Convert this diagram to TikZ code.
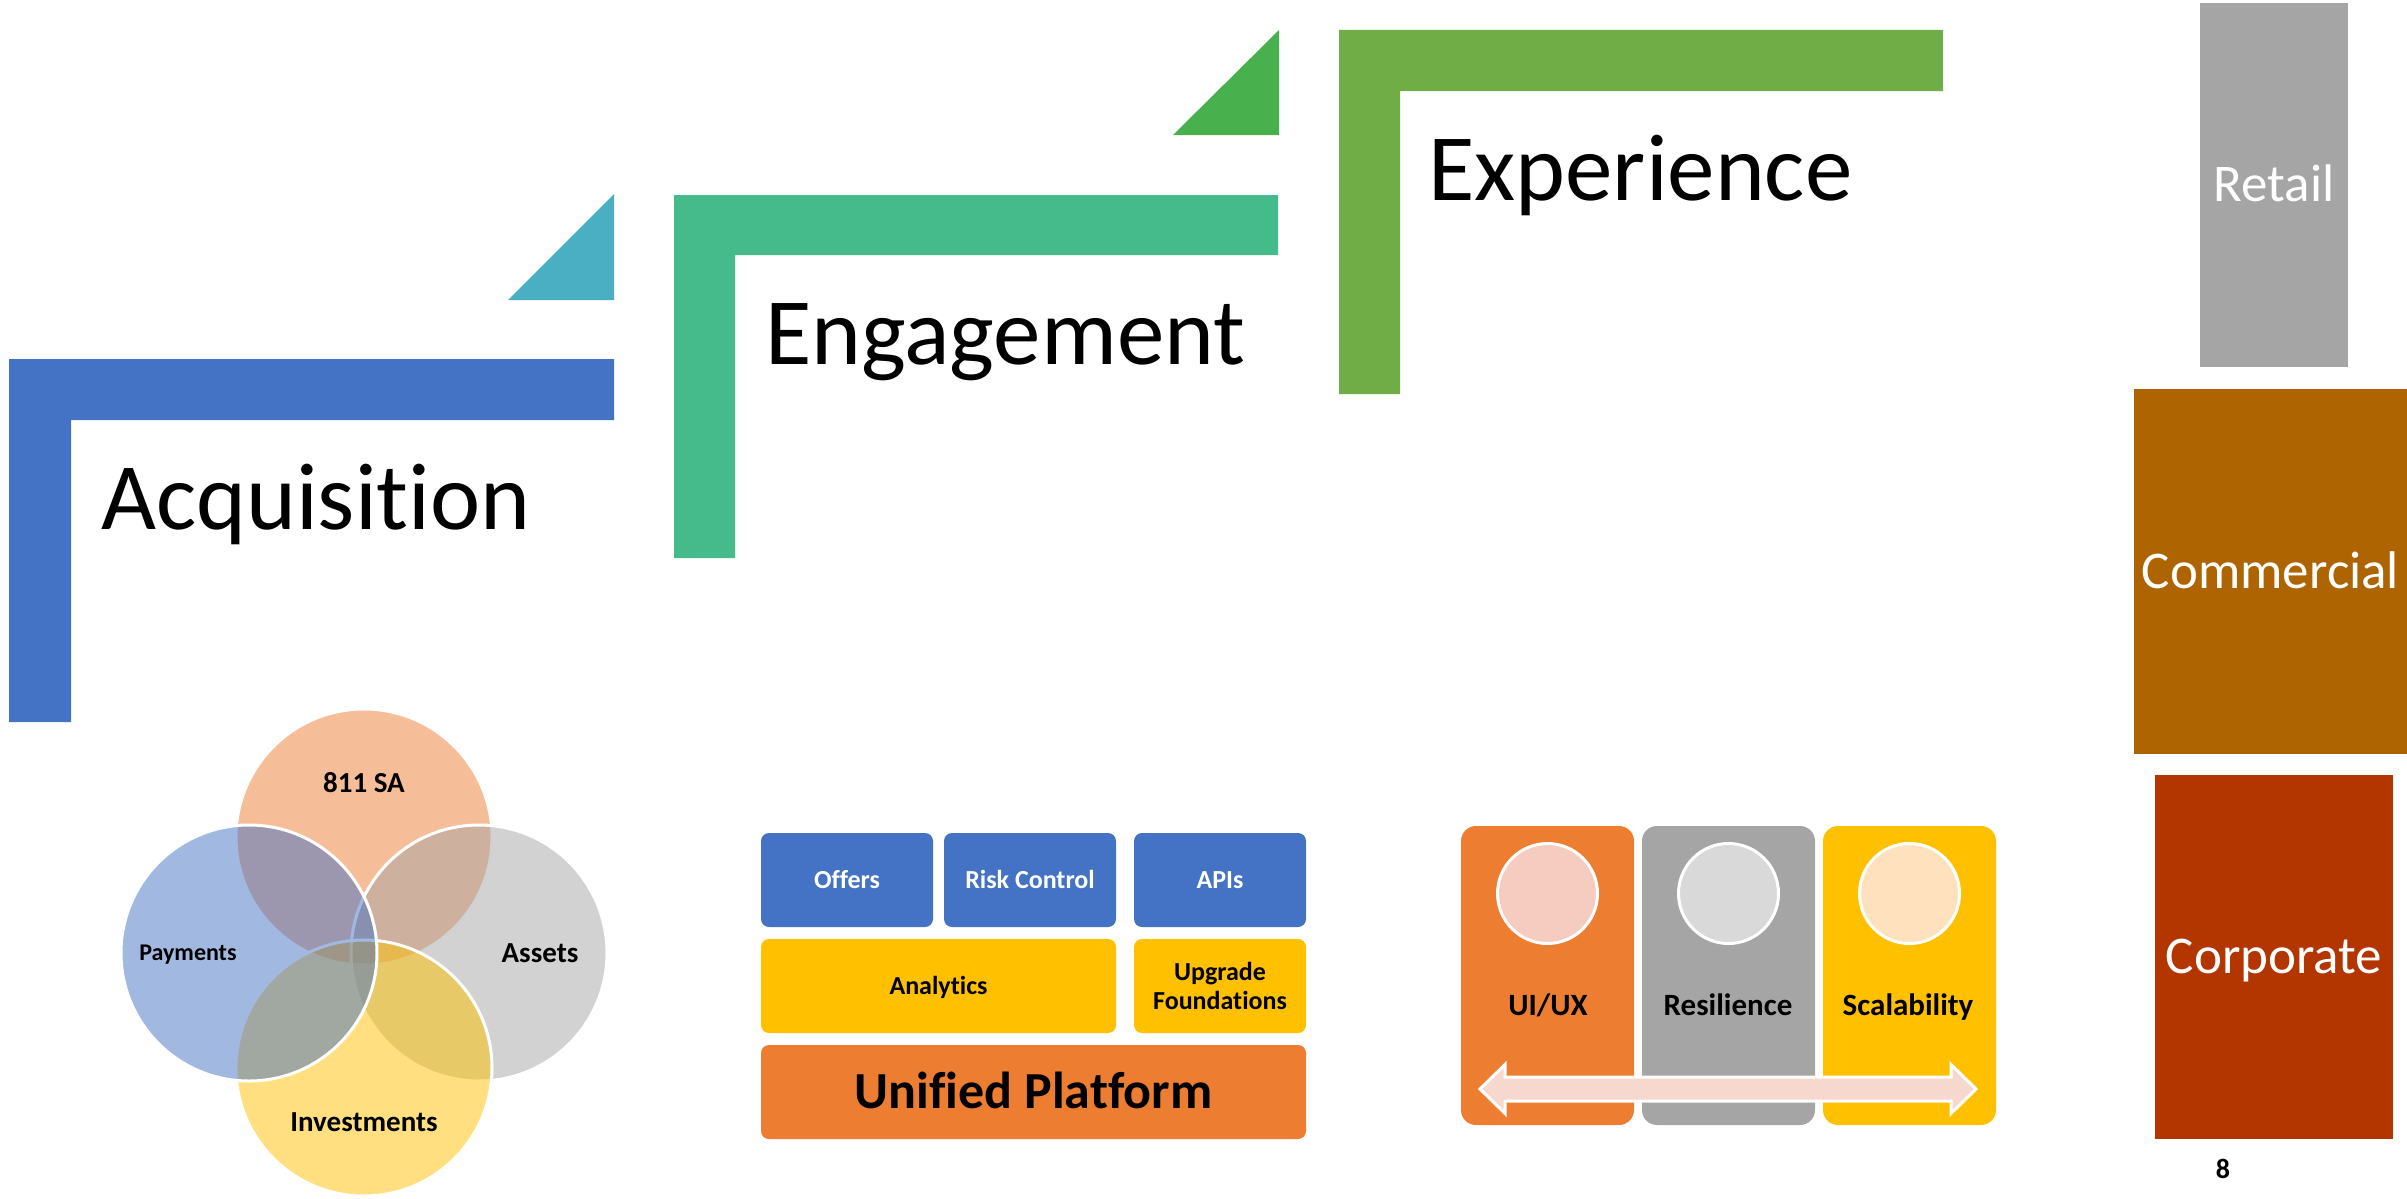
\documentclass[tikz,border=0pt]{standalone}
\usepackage{fontspec}
\setmainfont{Carlito}[Ligatures=NoCommon]
\usetikzlibrary{positioning}

\definecolor{acqBlue}{HTML}{4472C4}
\definecolor{acqTri}{HTML}{4AAFC2}
\definecolor{engGreen}{HTML}{45BB8C}
\definecolor{engTri}{HTML}{48B14D}
\definecolor{expGreen}{HTML}{70AD47}
\definecolor{segGray}{HTML}{A5A5A5}
\definecolor{segBrown}{HTML}{AE6400}
\definecolor{segRust}{HTML}{B33500}
\definecolor{offOrange}{HTML}{ED7D31}
\definecolor{offYellow}{HTML}{FFC000}
\definecolor{offGray}{HTML}{A5A5A5}
\definecolor{bubOrange}{HTML}{F5CCBF}
\definecolor{bubGray}{HTML}{D9D9D9}
\definecolor{bubYellow}{HTML}{FFE1BD}
\definecolor{arrowPink}{HTML}{F7D8CE}

\begin{document}
\begin{tikzpicture}[x=1pt, y=-1pt,
    bigLabel/.style={anchor=base west, inner sep=0pt, font=\fontsize{95}{110}\selectfont},
    segBox/.style={inner sep=0pt, outer sep=0pt, text=white, font=\fontsize{53}{60}\selectfont,
        text height=33.5pt, text depth=0pt},
    vennCircle/.style={circle, minimum size=256pt, inner sep=0pt, draw=white, line width=3pt, fill opacity=0.5},
    vennText/.style={anchor=base, inner sep=0pt, font=\bfseries\fontsize{29}{34}\selectfont},
    tile/.style={rounded corners=8pt, minimum width=172pt, minimum height=94pt, inner sep=0pt, outer sep=0pt,
        font=\bfseries\fontsize{26}{29}\selectfont, text height=16.4pt, text depth=0pt},
    panel/.style={rounded corners=15pt, minimum width=173pt, minimum height=299pt, inner sep=0pt, outer sep=0pt},
    bubble/.style={circle, minimum size=100pt, inner sep=0pt, draw=white, line width=3pt},
    panelText/.style={anchor=base, inner sep=0pt, font=\bfseries\fontsize{31}{36}\selectfont}]
    \useasboundingbox (0,0) rectangle (2407,1199);

    \fill[acqTri] (614,194) -- (614,300) -- (508,300) -- cycle;
    \fill[acqBlue] (9,359) -- (614,359) -- (614,420) -- (71,420) -- (71,722) -- (9,722) -- cycle;
    \node[bigLabel] (acq) at (101,529) {Acquisition};

    \fill[engTri] (1279,30) -- (1279,135) -- (1173,135) -- cycle;
    \fill[engGreen] (674,195) -- (1278,195) -- (1278,255) -- (735,255) -- (735,558) -- (674,558) -- cycle;
    \node[bigLabel] (eng) at (765,364) {Engagement};

    \fill[expGreen] (1339,30) -- (1943,30) -- (1943,91) -- (1400,91) -- (1400,394) -- (1339,394) -- cycle;
    \node[bigLabel] (exp) at (1428,200) {Experience};

    \node[segBox, fill=segGray, minimum width=148pt, minimum height=364pt] (retail) at (2274,185) {Retail};
    \node[segBox, fill=segBrown, minimum width=273pt, minimum height=365pt] (commercial) at (2270.5,571.5) {Commercial};
    \node[segBox, fill=segRust, minimum width=238pt, minimum height=364pt] (corporate) at (2274,957) {Corporate};
    \node[anchor=base, inner sep=0pt, font=\bfseries\fontsize{28}{32}\selectfont] (pageNum) at (2223,1178) {8};

    \node[vennCircle, fill=offOrange] (vTop) at (364,837) {};
    \node[vennCircle, fill=offGray] (vRight) at (479,953) {};
    \node[vennCircle, fill=offYellow] (vBottom) at (364,1068) {};
    \node[vennCircle, fill=acqBlue] (vLeft) at (249,953) {};
    \node[vennText] (saText) at (364,792) {811 SA};
    \node[vennText, font=\bfseries\fontsize{24}{28}\selectfont] (payText) at (188,960) {Payments};
    \node[vennText] (assetText) at (540,962) {Assets};
    \node[vennText] (investText) at (364,1131) {Investments};

    \node[tile, fill=acqBlue, text=white, anchor=north west] (offers) at (761,833) {Offers};
    \node[tile, fill=acqBlue, text=white, right=11pt of offers] (risk) {Risk Control};
    \node[tile, fill=acqBlue, text=white, right=18pt of risk] (apis) {APIs};
    \node[tile, fill=offYellow, minimum width=355pt, below=12pt of offers.south west, anchor=north west] (analytics) {Analytics};
    \node[tile, fill=offYellow, below=12pt of apis, text height=, text depth=, align=center] (upgrade) {Upgrade\\Foundations};
    \node[tile, fill=offOrange, minimum width=545pt, below=12pt of analytics.south west, anchor=north west,
        font=\bfseries\fontsize{52}{60}\selectfont, text height=32.9pt] (platform) {Unified Platform};

    \node[panel, fill=offOrange, anchor=north west] (uxPanel) at (1461,826) {};
    \node[panel, fill=offGray, right=8pt of uxPanel] (resPanel) {};
    \node[panel, fill=offYellow, right=8pt of resPanel] (scalePanel) {};
    \node[bubble, fill=bubOrange, below=16pt of uxPanel.north] (uxBubble) {};
    \node[bubble, fill=bubGray, below=16pt of resPanel.north] (resBubble) {};
    \node[bubble, fill=bubYellow, below=16pt of scalePanel.north] (scaleBubble) {};
    \node[panelText] (uxText) at (1548,1015) {UI/UX};
    \node[panelText] (resText) at (1728,1015) {Resilience};
    \node[panelText] (scaleText) at (1908,1015) {Scalability};

    \filldraw[fill=arrowPink, draw=white, line width=3pt, line join=miter]
        (1480,1089) -- (1505,1064.5) -- (1505,1077) -- (1951,1077) -- (1951,1064.5) -- (1976,1089)
        -- (1951,1113.5) -- (1951,1101) -- (1505,1101) -- (1505,1113.5) -- cycle;
\end{tikzpicture}
\end{document}
